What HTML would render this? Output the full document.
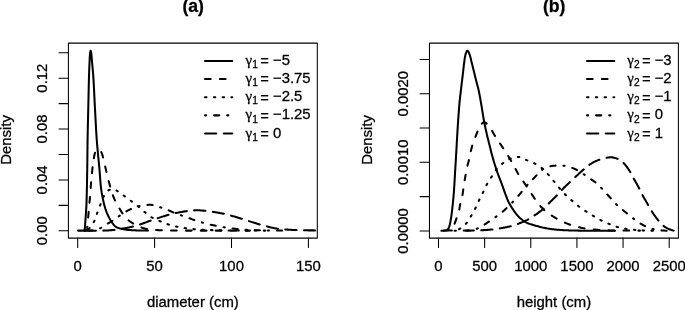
<!DOCTYPE html>
<html lang="en"><head><meta charset="utf-8"><title>Density plots</title>
<style>html,body{margin:0;padding:0;background:#fff}svg{display:block}text{font-family:"Liberation Sans",Arial,Helvetica,sans-serif;fill:#000;stroke:#000;stroke-width:0.28px}.g{font-family:"Liberation Serif","Liberation Sans",serif}.c{fill:none;stroke:#000;stroke-width:2.05;stroke-linecap:round;stroke-linejoin:round}.ax{fill:none;stroke:#000;stroke-width:1.05;stroke-linecap:round;stroke-linejoin:round}</style></head><body>
<svg width="685" height="310" viewBox="0 0 685 310">
<rect width="685" height="310" fill="#fff"/>
<clipPath id="cp1"><rect x="68.40" y="43.10" width="248.90" height="195.00"/></clipPath>
<line x1="68.40" y1="231.00" x2="317.30" y2="231.00" stroke="#d9d9d9" stroke-width="0.4"/>
<g clip-path="url(#cp1)">
<path class="c" d="M78.00 230.60 L79.17 230.60 L80.24 230.60 L81.21 230.60 L82.08 230.60 L82.82 230.60 L83.44 230.60 L83.93 230.60 L84.27 230.57 L84.54 230.02 L84.75 229.06 L84.89 228.10 L84.97 227.31 L85.04 226.52 L85.10 225.72 L85.14 224.92 L85.18 224.12 L85.22 223.31 L85.27 222.51 L85.32 221.72 L85.37 220.92 L85.43 220.12 L85.48 219.32 L85.54 218.52 L85.60 217.73 L85.65 216.93 L85.71 216.13 L85.77 215.33 L85.83 214.54 L85.89 213.74 L85.94 212.94 L86.00 212.14 L86.05 211.34 L86.11 210.55 L86.16 209.75 L86.21 208.95 L86.26 208.15 L86.30 207.35 L86.35 206.56 L86.39 205.76 L86.42 204.96 L86.46 204.16 L86.49 203.36 L86.51 202.56 L86.54 201.77 L86.57 200.97 L86.59 200.17 L86.62 199.37 L86.64 198.57 L86.66 197.77 L86.69 196.97 L86.71 196.17 L86.73 195.37 L86.75 194.57 L86.77 193.78 L86.79 192.98 L86.81 192.18 L86.83 191.38 L86.85 190.58 L86.86 189.78 L86.88 188.98 L86.90 188.18 L86.91 187.38 L86.93 186.58 L86.95 185.78 L86.96 184.98 L86.98 184.18 L86.99 183.38 L87.01 182.58 L87.02 181.78 L87.04 180.98 L87.05 180.18 L87.06 179.38 L87.08 178.58 L87.09 177.78 L87.10 176.99 L87.12 176.19 L87.13 175.39 L87.14 174.59 L87.16 173.79 L87.17 172.99 L87.18 172.19 L87.19 171.39 L87.21 170.59 L87.22 169.79 L87.23 168.99 L87.24 168.19 L87.25 167.39 L87.26 166.59 L87.28 165.79 L87.29 164.99 L87.30 164.19 L87.31 163.39 L87.32 162.59 L87.32 161.79 L87.33 161.00 L87.34 160.20 L87.35 159.40 L87.36 158.60 L87.37 157.80 L87.38 157.00 L87.39 156.20 L87.40 155.40 L87.40 154.60 L87.41 153.80 L87.42 153.00 L87.43 152.20 L87.44 151.40 L87.45 150.60 L87.46 149.80 L87.47 149.00 L87.48 148.20 L87.48 147.40 L87.49 146.60 L87.50 145.80 L87.51 145.01 L87.52 144.21 L87.54 143.41 L87.55 142.61 L87.56 141.81 L87.57 141.01 L87.58 140.21 L87.59 139.41 L87.61 138.61 L87.62 137.81 L87.63 137.01 L87.65 136.21 L87.66 135.41 L87.68 134.61 L87.69 133.81 L87.71 133.01 L87.72 132.21 L87.74 131.42 L87.75 130.62 L87.77 129.82 L87.79 129.02 L87.81 128.22 L87.82 127.42 L87.84 126.62 L87.86 125.82 L87.88 125.02 L87.89 124.22 L87.91 123.42 L87.93 122.62 L87.95 121.82 L87.97 121.02 L87.99 120.22 L88.01 119.42 L88.03 118.63 L88.05 117.83 L88.06 117.03 L88.08 116.23 L88.10 115.43 L88.12 114.63 L88.14 113.83 L88.16 113.03 L88.18 112.23 L88.20 111.43 L88.22 110.63 L88.23 109.83 L88.25 109.03 L88.27 108.23 L88.29 107.43 L88.31 106.64 L88.33 105.84 L88.34 105.04 L88.36 104.24 L88.38 103.44 L88.40 102.64 L88.41 101.84 L88.43 101.04 L88.45 100.24 L88.46 99.44 L88.48 98.64 L88.50 97.84 L88.52 97.04 L88.53 96.24 L88.55 95.44 L88.57 94.64 L88.58 93.85 L88.60 93.05 L88.62 92.25 L88.64 91.45 L88.65 90.65 L88.67 89.85 L88.69 89.05 L88.71 88.25 L88.72 87.45 L88.74 86.65 L88.76 85.85 L88.78 85.05 L88.80 84.25 L88.82 83.45 L88.84 82.65 L88.86 81.86 L88.88 81.06 L88.90 80.26 L88.92 79.46 L88.94 78.66 L88.97 77.86 L88.99 77.06 L89.01 76.26 L89.04 75.46 L89.06 74.66 L89.09 73.86 L89.11 73.06 L89.14 72.27 L89.17 71.47 L89.19 70.67 L89.22 69.87 L89.25 69.07 L89.28 68.27 L89.32 67.47 L89.35 66.67 L89.38 65.87 L89.41 65.07 L89.45 64.28 L89.48 63.48 L89.52 62.68 L89.56 61.88 L89.59 61.08 L89.63 60.28 L89.67 59.48 L89.71 58.68 L89.75 57.88 L89.79 57.09 L89.84 56.29 L89.90 55.49 L89.96 54.69 L90.04 53.89 L90.12 53.10 L90.23 52.31 L90.40 51.37 L90.63 50.71 L90.88 51.20 L91.09 52.17 L91.22 52.95 L91.32 53.75 L91.41 54.54 L91.48 55.34 L91.56 56.14 L91.64 56.93 L91.70 57.73 L91.77 58.53 L91.83 59.32 L91.90 60.12 L91.96 60.92 L92.03 61.72 L92.09 62.51 L92.17 63.31 L92.24 64.10 L92.31 64.90 L92.39 65.70 L92.46 66.49 L92.54 67.29 L92.61 68.09 L92.69 68.88 L92.76 69.68 L92.84 70.47 L92.91 71.27 L92.97 72.07 L93.04 72.86 L93.10 73.66 L93.16 74.46 L93.22 75.26 L93.27 76.05 L93.32 76.85 L93.38 77.65 L93.43 78.45 L93.47 79.24 L93.52 80.04 L93.57 80.84 L93.62 81.64 L93.66 82.44 L93.71 83.23 L93.75 84.03 L93.79 84.83 L93.84 85.63 L93.88 86.43 L93.92 87.23 L93.96 88.02 L94.00 88.82 L94.04 89.62 L94.08 90.42 L94.12 91.22 L94.16 92.02 L94.19 92.82 L94.23 93.62 L94.27 94.41 L94.31 95.21 L94.35 96.01 L94.39 96.81 L94.42 97.61 L94.46 98.41 L94.50 99.21 L94.54 100.01 L94.58 100.80 L94.62 101.60 L94.66 102.40 L94.70 103.20 L94.74 104.00 L94.78 104.80 L94.82 105.60 L94.87 106.39 L94.91 107.19 L94.95 107.99 L95.00 108.79 L95.04 109.59 L95.08 110.39 L95.12 111.18 L95.17 111.98 L95.21 112.78 L95.25 113.58 L95.29 114.38 L95.33 115.18 L95.37 115.98 L95.41 116.77 L95.46 117.57 L95.50 118.37 L95.54 119.17 L95.58 119.97 L95.62 120.77 L95.66 121.57 L95.71 122.37 L95.75 123.16 L95.79 123.96 L95.84 124.76 L95.88 125.56 L95.92 126.36 L95.97 127.16 L96.01 127.95 L96.06 128.75 L96.10 129.55 L96.15 130.35 L96.20 131.15 L96.24 131.94 L96.29 132.74 L96.34 133.54 L96.39 134.34 L96.44 135.14 L96.49 135.93 L96.55 136.73 L96.60 137.53 L96.65 138.33 L96.71 139.12 L96.77 139.92 L96.82 140.72 L96.88 141.51 L96.95 142.31 L97.01 143.11 L97.07 143.91 L97.14 144.70 L97.21 145.50 L97.28 146.29 L97.35 147.09 L97.42 147.89 L97.49 148.68 L97.56 149.48 L97.64 150.28 L97.71 151.07 L97.79 151.87 L97.86 152.66 L97.94 153.46 L98.01 154.26 L98.09 155.05 L98.17 155.85 L98.25 156.64 L98.33 157.44 L98.40 158.24 L98.48 159.03 L98.56 159.83 L98.64 160.62 L98.71 161.42 L98.79 162.22 L98.87 163.01 L98.95 163.81 L99.02 164.60 L99.10 165.40 L99.17 166.20 L99.24 166.99 L99.32 167.79 L99.39 168.59 L99.46 169.38 L99.53 170.18 L99.60 170.97 L99.66 171.77 L99.73 172.57 L99.79 173.37 L99.85 174.17 L99.91 174.96 L99.97 175.76 L100.02 176.56 L100.08 177.36 L100.14 178.16 L100.19 178.96 L100.25 179.75 L100.31 180.55 L100.37 181.35 L100.44 182.15 L100.50 182.94 L100.57 183.74 L100.65 184.53 L100.72 185.33 L100.80 186.12 L100.89 186.91 L100.98 187.71 L101.08 188.50 L101.19 189.29 L101.30 190.08 L101.41 190.87 L101.54 191.66 L101.66 192.45 L101.80 193.24 L101.94 194.03 L102.08 194.82 L102.23 195.61 L102.38 196.40 L102.54 197.18 L102.70 197.97 L102.86 198.75 L103.03 199.54 L103.20 200.32 L103.37 201.10 L103.54 201.88 L103.72 202.65 L103.90 203.43 L104.09 204.21 L104.29 204.98 L104.50 205.75 L104.72 206.52 L104.95 207.29 L105.19 208.06 L105.43 208.82 L105.69 209.58 L105.95 210.33 L106.21 211.08 L106.50 211.83 L106.79 212.58 L107.10 213.32 L107.41 214.05 L107.74 214.79 L108.07 215.51 L108.42 216.23 L108.77 216.95 L109.13 217.66 L109.50 218.38 L109.89 219.09 L110.28 219.79 L110.69 220.48 L111.12 221.16 L111.55 221.83 L112.01 222.47 L112.48 223.11 L112.97 223.77 L113.48 224.44 L114.01 225.08 L114.57 225.69 L115.14 226.24 L115.75 226.71 L116.38 227.10 L117.06 227.44 L117.79 227.74 L118.55 228.02 L119.34 228.28 L120.14 228.50 L120.93 228.70 L121.70 228.86 L122.48 229.02 L123.26 229.17 L124.05 229.31 L124.84 229.44 L125.64 229.56 L126.43 229.67 L127.23 229.77 L128.03 229.86 L128.83 229.94 L129.62 230.00 L130.42 230.06 L131.21 230.11 L132.01 230.17 L132.81 230.21 L133.61 230.26 L134.41 230.30 L135.21 230.34 L136.01 230.38 L136.81 230.41 L137.61 230.44 L138.41 230.46 L139.21 230.48 L140.01 230.50 L140.80 230.52 L141.60 230.53 L142.40 230.54 L143.20 230.56 L144.00 230.57 L144.80 230.58 L145.60 230.59 L146.40 230.59 L147.20 230.60 L148.00 230.60"/>
<path class="c" stroke-dasharray="5.7 9.2" stroke-dashoffset="10.31" d="M80.00 230.60 L81.12 230.60 L82.14 230.60 L83.07 230.59 L83.91 230.58 L84.66 230.57 L85.31 230.55 L85.88 230.52 L86.35 230.49 L86.75 229.86 L87.01 228.96 L87.15 228.19 L87.25 227.39 L87.34 226.58 L87.42 225.79 L87.51 224.99 L87.59 224.20 L87.67 223.40 L87.74 222.60 L87.81 221.81 L87.88 221.01 L87.95 220.21 L88.01 219.41 L88.08 218.62 L88.15 217.82 L88.21 217.02 L88.28 216.23 L88.35 215.43 L88.42 214.63 L88.48 213.83 L88.55 213.04 L88.61 212.24 L88.68 211.44 L88.74 210.64 L88.81 209.85 L88.87 209.05 L88.94 208.25 L89.00 207.46 L89.07 206.66 L89.14 205.86 L89.21 205.06 L89.28 204.27 L89.35 203.47 L89.43 202.68 L89.52 201.88 L89.61 201.09 L89.70 200.29 L89.79 199.50 L89.87 198.70 L89.94 197.90 L90.01 197.11 L90.07 196.31 L90.14 195.51 L90.19 194.72 L90.25 193.92 L90.30 193.12 L90.36 192.32 L90.41 191.52 L90.46 190.72 L90.52 189.93 L90.57 189.13 L90.63 188.33 L90.68 187.53 L90.74 186.73 L90.81 185.94 L90.87 185.14 L90.93 184.34 L91.00 183.54 L91.07 182.75 L91.13 181.95 L91.20 181.15 L91.27 180.36 L91.34 179.56 L91.41 178.76 L91.48 177.97 L91.56 177.17 L91.63 176.37 L91.71 175.58 L91.78 174.78 L91.86 173.98 L91.94 173.19 L92.02 172.39 L92.10 171.60 L92.19 170.80 L92.27 170.01 L92.36 169.21 L92.45 168.42 L92.54 167.62 L92.64 166.83 L92.73 166.03 L92.83 165.24 L92.93 164.44 L93.03 163.65 L93.14 162.86 L93.25 162.06 L93.36 161.27 L93.48 160.48 L93.60 159.69 L93.73 158.90 L93.86 158.11 L94.00 157.31 L94.13 156.51 L94.28 155.72 L94.45 154.93 L94.64 154.16 L94.84 153.40 L95.08 152.66 L95.40 151.89 L95.78 151.15 L96.24 150.49 L96.77 149.95 L97.47 149.45 L98.21 149.32 L99.00 149.56 L99.69 149.92 L100.27 150.48 L100.76 151.16 L101.14 151.83 L101.48 152.54 L101.78 153.27 L102.06 154.03 L102.32 154.81 L102.56 155.59 L102.79 156.37 L103.01 157.14 L103.22 157.91 L103.42 158.68 L103.60 159.46 L103.78 160.24 L103.95 161.02 L104.12 161.81 L104.29 162.59 L104.46 163.37 L104.64 164.15 L104.82 164.93 L104.99 165.71 L105.17 166.49 L105.35 167.27 L105.53 168.05 L105.71 168.83 L105.89 169.61 L106.07 170.39 L106.26 171.17 L106.44 171.95 L106.62 172.73 L106.80 173.51 L106.98 174.28 L107.16 175.06 L107.35 175.84 L107.53 176.62 L107.72 177.40 L107.92 178.17 L108.11 178.95 L108.32 179.72 L108.52 180.49 L108.73 181.27 L108.94 182.04 L109.16 182.81 L109.37 183.58 L109.59 184.35 L109.81 185.12 L110.03 185.89 L110.24 186.66 L110.46 187.43 L110.68 188.20 L110.89 188.97 L111.11 189.74 L111.33 190.51 L111.56 191.28 L111.79 192.04 L112.03 192.80 L112.29 193.56 L112.55 194.31 L112.82 195.07 L113.10 195.82 L113.39 196.57 L113.68 197.32 L113.98 198.06 L114.29 198.80 L114.61 199.53 L114.93 200.26 L115.27 200.98 L115.62 201.69 L115.99 202.40 L116.37 203.11 L116.75 203.81 L117.15 204.51 L117.55 205.20 L117.95 205.90 L118.36 206.59 L118.76 207.28 L119.17 207.97 L119.57 208.66 L119.97 209.36 L120.37 210.05 L120.78 210.74 L121.19 211.42 L121.63 212.09 L122.07 212.75 L122.53 213.41 L123.00 214.07 L123.47 214.72 L123.96 215.37 L124.45 216.01 L124.95 216.65 L125.47 217.26 L126.00 217.87 L126.54 218.45 L127.09 219.01 L127.66 219.55 L128.25 220.07 L128.86 220.57 L129.50 221.06 L130.15 221.53 L130.82 221.99 L131.49 222.44 L132.18 222.87 L132.86 223.29 L133.54 223.70 L134.22 224.11 L134.92 224.52 L135.62 224.92 L136.33 225.31 L137.04 225.69 L137.76 226.04 L138.48 226.38 L139.22 226.70 L139.95 226.98 L140.70 227.25 L141.45 227.51 L142.21 227.77 L142.98 228.01 L143.76 228.24 L144.53 228.45 L145.32 228.64 L146.10 228.81 L146.88 228.95 L147.66 229.07 L148.45 229.18 L149.24 229.28 L150.03 229.39 L150.82 229.48 L151.62 229.57 L152.42 229.66 L153.21 229.74 L154.01 229.82 L154.81 229.89 L155.62 229.95 L156.42 230.01 L157.22 230.06 L158.02 230.11 L158.82 230.15 L159.62 230.19 L160.42 230.21 L161.21 230.24 L162.01 230.27 L162.81 230.29 L163.61 230.32 L164.41 230.34 L165.21 230.37 L166.01 230.39 L166.81 230.41 L167.61 230.43 L168.41 230.45 L169.21 230.47 L170.01 230.49 L170.81 230.50 L171.61 230.52 L172.41 230.53 L173.21 230.55 L174.01 230.56 L174.81 230.57 L175.61 230.58 L176.41 230.58 L177.21 230.59 L178.01 230.60 L178.81 230.60 L179.61 230.60 L180.41 230.60 L181.21 230.60 L182.01 230.60 L182.81 230.60 L183.61 230.60 L184.41 230.60 L185.21 230.60 L186.01 230.60 L186.81 230.60 L187.61 230.60 L188.41 230.60 L189.21 230.60 L190.01 230.60 L190.81 230.60 L191.61 230.60 L192.41 230.60 L193.21 230.60 L194.01 230.60 L194.81 230.60 L195.61 230.60 L196.41 230.60 L197.21 230.60 L198.01 230.60 L198.81 230.60 L199.61 230.60 L200.40 230.60 L201.20 230.60 L202.00 230.60 L202.80 230.60 L203.60 230.60 L204.40 230.60 L205.20 230.60 L206.00 230.60 L206.80 230.60 L207.60 230.60 L208.40 230.60 L209.20 230.60 L210.00 230.60 L210.80 230.60 L211.60 230.60 L212.40 230.60 L213.20 230.60 L214.00 230.60 L214.80 230.60 L215.60 230.60 L216.40 230.60 L217.20 230.60 L218.00 230.60 L218.80 230.60 L219.60 230.60 L220.40 230.60 L221.20 230.60 L222.00 230.60 L222.80 230.60 L223.60 230.60 L224.40 230.60 L225.20 230.60 L226.00 230.60 L226.80 230.60 L227.60 230.60 L228.40 230.60 L229.20 230.60 L230.00 230.60 L230.80 230.60 L231.60 230.60 L232.40 230.60 L233.20 230.60 L234.00 230.60 L234.80 230.60 L235.60 230.60 L236.40 230.60 L237.20 230.60 L238.00 230.60 L238.80 230.60 L239.60 230.60 L240.40 230.60 L241.20 230.60 L242.00 230.60 L242.80 230.60 L243.60 230.60 L244.40 230.60 L245.20 230.60 L246.00 230.60 L246.80 230.60 L247.60 230.60 L248.40 230.60 L249.20 230.60 L250.00 230.60"/>
<path class="c" stroke-dasharray="1.5 7.3" stroke-dashoffset="2.01" d="M82.00 230.60 L82.83 230.58 L83.65 230.52 L84.44 230.44 L85.22 230.33 L85.97 230.21 L86.71 230.00 L87.45 229.66 L88.17 229.24 L88.84 228.76 L89.44 228.27 L89.97 227.71 L90.45 227.08 L90.91 226.39 L91.36 225.71 L91.81 225.06 L92.27 224.40 L92.73 223.74 L93.17 223.07 L93.58 222.39 L93.95 221.69 L94.29 220.98 L94.61 220.26 L94.91 219.53 L95.19 218.78 L95.46 218.03 L95.72 217.27 L95.98 216.51 L96.24 215.75 L96.50 214.99 L96.76 214.24 L97.03 213.48 L97.31 212.74 L97.59 211.99 L97.87 211.24 L98.15 210.50 L98.43 209.75 L98.71 209.00 L98.99 208.26 L99.27 207.51 L99.55 206.77 L99.84 206.02 L100.13 205.28 L100.42 204.54 L100.70 203.79 L100.98 203.04 L101.26 202.29 L101.54 201.53 L101.83 200.78 L102.12 200.04 L102.41 199.30 L102.72 198.56 L103.05 197.84 L103.38 197.12 L103.74 196.42 L104.11 195.73 L104.52 195.03 L104.95 194.35 L105.40 193.68 L105.88 193.04 L106.38 192.43 L106.91 191.84 L107.48 191.25 L108.09 190.71 L108.73 190.25 L109.41 189.89 L110.15 189.55 L110.92 189.24 L111.71 188.99 L112.49 188.83 L113.23 188.81 L113.97 188.99 L114.69 189.32 L115.40 189.75 L116.11 190.23 L116.80 190.68 L117.48 191.09 L118.15 191.51 L118.81 191.95 L119.47 192.40 L120.12 192.87 L120.76 193.34 L121.40 193.82 L122.04 194.31 L122.68 194.79 L123.31 195.27 L123.96 195.75 L124.60 196.22 L125.24 196.69 L125.89 197.16 L126.53 197.63 L127.17 198.10 L127.81 198.58 L128.45 199.05 L129.09 199.53 L129.73 200.00 L130.37 200.48 L131.01 200.96 L131.65 201.44 L132.29 201.91 L132.93 202.39 L133.57 202.87 L134.20 203.34 L134.84 203.82 L135.48 204.31 L136.11 204.79 L136.74 205.28 L137.37 205.77 L137.99 206.27 L138.61 206.77 L139.22 207.28 L139.82 207.80 L140.42 208.33 L141.01 208.86 L141.61 209.39 L142.20 209.92 L142.80 210.45 L143.40 210.98 L144.00 211.50 L144.61 212.01 L145.23 212.52 L145.84 213.04 L146.45 213.56 L147.06 214.08 L147.68 214.60 L148.30 215.10 L148.94 215.59 L149.57 216.07 L150.22 216.51 L150.89 216.93 L151.57 217.33 L152.26 217.70 L152.96 218.06 L153.68 218.40 L154.41 218.73 L155.14 219.06 L155.88 219.38 L156.62 219.69 L157.36 220.00 L158.10 220.31 L158.84 220.63 L159.57 220.95 L160.30 221.27 L161.03 221.59 L161.76 221.91 L162.49 222.23 L163.23 222.54 L163.96 222.85 L164.70 223.15 L165.44 223.44 L166.19 223.72 L166.94 223.98 L167.69 224.23 L168.45 224.48 L169.21 224.72 L169.97 224.96 L170.74 225.19 L171.51 225.41 L172.28 225.62 L173.05 225.83 L173.82 226.02 L174.59 226.21 L175.37 226.38 L176.15 226.55 L176.92 226.72 L177.71 226.88 L178.49 227.04 L179.27 227.19 L180.06 227.34 L180.84 227.48 L181.63 227.62 L182.42 227.75 L183.20 227.88 L183.99 227.99 L184.78 228.10 L185.57 228.21 L186.36 228.31 L187.15 228.41 L187.94 228.51 L188.73 228.60 L189.52 228.69 L190.32 228.78 L191.11 228.87 L191.90 228.96 L192.70 229.04 L193.49 229.12 L194.29 229.19 L195.08 229.26 L195.88 229.33 L196.67 229.39 L197.47 229.45 L198.26 229.50 L199.06 229.55 L199.85 229.59 L200.65 229.63 L201.44 229.67 L202.24 229.71 L203.03 229.74 L203.83 229.78 L204.63 229.82 L205.42 229.85 L206.22 229.89 L207.01 229.92 L207.81 229.95 L208.61 229.98 L209.40 230.02 L210.20 230.05 L211.00 230.08 L211.79 230.11 L212.59 230.13 L213.39 230.16 L214.18 230.19 L214.98 230.21 L215.78 230.24 L216.58 230.26 L217.37 230.28 L218.17 230.31 L218.97 230.33 L219.77 230.35 L220.56 230.36 L221.36 230.38 L222.16 230.40 L222.95 230.41 L223.75 230.43 L224.55 230.44 L225.35 230.45 L226.14 230.46 L226.94 230.47 L227.74 230.48 L228.54 230.49 L229.33 230.50 L230.13 230.50 L230.93 230.50 L231.72 230.51 L232.52 230.51 L233.32 230.52 L234.11 230.52 L234.91 230.52 L235.71 230.53 L236.51 230.53 L237.30 230.53 L238.10 230.54 L238.90 230.54 L239.69 230.54 L240.49 230.55 L241.29 230.55 L242.08 230.55 L242.88 230.56 L243.68 230.56 L244.48 230.56 L245.27 230.57 L246.07 230.57 L246.87 230.57 L247.66 230.57 L248.46 230.57 L249.26 230.58 L250.06 230.58 L250.85 230.58 L251.65 230.58 L252.45 230.58 L253.24 230.59 L254.04 230.59 L254.84 230.59 L255.64 230.59 L256.43 230.59 L257.23 230.59 L258.03 230.59 L258.82 230.60 L259.62 230.60 L260.42 230.60 L261.22 230.60 L262.01 230.60 L262.81 230.60 L263.61 230.60 L264.41 230.60 L265.20 230.60 L266.00 230.60"/>
<path class="c" stroke-dasharray="1.2 7.9 5.2 7.9" stroke-dashoffset="9.76" d="M88.00 230.60 L88.82 230.59 L89.63 230.56 L90.43 230.51 L91.23 230.45 L92.03 230.37 L92.82 230.29 L93.61 230.19 L94.39 230.09 L95.16 229.98 L95.93 229.83 L96.71 229.62 L97.47 229.38 L98.23 229.10 L98.99 228.79 L99.73 228.47 L100.46 228.14 L101.18 227.81 L101.89 227.46 L102.57 227.07 L103.25 226.65 L103.91 226.20 L104.57 225.74 L105.23 225.27 L105.89 224.81 L106.55 224.35 L107.23 223.91 L107.91 223.49 L108.59 223.08 L109.29 222.68 L109.98 222.28 L110.67 221.88 L111.36 221.48 L112.05 221.07 L112.72 220.64 L113.39 220.21 L114.05 219.76 L114.70 219.29 L115.34 218.82 L115.98 218.34 L116.62 217.86 L117.26 217.38 L117.90 216.90 L118.55 216.43 L119.20 215.97 L119.86 215.51 L120.51 215.05 L121.17 214.60 L121.83 214.14 L122.49 213.69 L123.16 213.25 L123.83 212.81 L124.51 212.39 L125.19 211.98 L125.88 211.58 L126.58 211.19 L127.28 210.81 L127.99 210.44 L128.70 210.07 L129.42 209.72 L130.15 209.38 L130.88 209.05 L131.61 208.74 L132.35 208.44 L133.09 208.14 L133.84 207.85 L134.59 207.57 L135.35 207.31 L136.11 207.05 L136.87 206.81 L137.64 206.60 L138.41 206.40 L139.18 206.21 L139.96 206.03 L140.74 205.85 L141.52 205.68 L142.31 205.52 L143.10 205.37 L143.89 205.24 L144.68 205.13 L145.48 205.04 L146.27 204.98 L147.07 204.92 L147.87 204.87 L148.67 204.83 L149.46 204.81 L150.26 204.80 L151.06 204.85 L151.86 204.95 L152.65 205.08 L153.44 205.22 L154.22 205.36 L154.99 205.54 L155.76 205.75 L156.52 205.99 L157.28 206.24 L158.04 206.52 L158.79 206.79 L159.55 207.07 L160.30 207.33 L161.06 207.59 L161.82 207.84 L162.58 208.10 L163.33 208.36 L164.09 208.63 L164.84 208.89 L165.59 209.17 L166.34 209.45 L167.08 209.73 L167.83 210.03 L168.56 210.34 L169.30 210.65 L170.03 210.98 L170.76 211.30 L171.49 211.62 L172.22 211.94 L172.96 212.26 L173.70 212.56 L174.44 212.85 L175.19 213.14 L175.93 213.42 L176.68 213.70 L177.43 213.98 L178.18 214.25 L178.93 214.52 L179.69 214.79 L180.44 215.06 L181.19 215.33 L181.94 215.60 L182.70 215.86 L183.45 216.12 L184.21 216.38 L184.97 216.64 L185.72 216.90 L186.48 217.17 L187.23 217.43 L187.98 217.70 L188.73 217.98 L189.48 218.26 L190.23 218.54 L190.98 218.83 L191.72 219.11 L192.47 219.40 L193.22 219.67 L193.97 219.95 L194.72 220.21 L195.48 220.46 L196.24 220.71 L197.00 220.95 L197.77 221.18 L198.53 221.41 L199.30 221.64 L200.07 221.87 L200.83 222.09 L201.60 222.31 L202.37 222.53 L203.14 222.76 L203.91 222.98 L204.68 223.19 L205.45 223.41 L206.22 223.62 L206.99 223.82 L207.76 224.02 L208.54 224.21 L209.32 224.40 L210.09 224.57 L210.88 224.74 L211.66 224.90 L212.44 225.06 L213.23 225.22 L214.01 225.37 L214.79 225.52 L215.58 225.68 L216.36 225.83 L217.15 225.99 L217.93 226.15 L218.71 226.31 L219.50 226.47 L220.28 226.62 L221.07 226.77 L221.85 226.92 L222.64 227.06 L223.43 227.19 L224.22 227.31 L225.01 227.43 L225.80 227.54 L226.59 227.65 L227.38 227.76 L228.17 227.86 L228.97 227.96 L229.76 228.07 L230.55 228.17 L231.34 228.27 L232.14 228.38 L232.93 228.49 L233.72 228.60 L234.51 228.71 L235.31 228.81 L236.10 228.91 L236.89 229.00 L237.69 229.07 L238.48 229.14 L239.28 229.20 L240.07 229.26 L240.87 229.33 L241.67 229.39 L242.46 229.44 L243.26 229.50 L244.06 229.56 L244.85 229.61 L245.65 229.66 L246.45 229.71 L247.25 229.76 L248.05 229.81 L248.84 229.86 L249.64 229.90 L250.44 229.95 L251.24 229.99 L252.04 230.03 L252.84 230.06 L253.64 230.10 L254.44 230.13 L255.24 230.16 L256.03 230.19 L256.83 230.22 L257.63 230.24 L258.43 230.26 L259.23 230.28 L260.03 230.30 L260.83 230.32 L261.63 230.33 L262.42 230.35 L263.22 230.36 L264.02 230.38 L264.82 230.39 L265.62 230.41 L266.42 230.42 L267.22 230.44 L268.01 230.45 L268.81 230.46 L269.61 230.48 L270.41 230.49 L271.21 230.50 L272.01 230.51 L272.81 230.52 L273.61 230.53 L274.41 230.54 L275.21 230.55 L276.01 230.56 L276.80 230.57 L277.60 230.57 L278.40 230.58 L279.20 230.58 L280.00 230.59 L280.80 230.59 L281.60 230.60 L282.40 230.60 L283.20 230.60 L284.00 230.60"/>
<path class="c" stroke-dasharray="11.3 7.4" stroke-dashoffset="0.00" d="M84.60 230.70 L85.40 230.70 L86.20 230.70 L87.00 230.70 L87.79 230.70 L88.59 230.70 L89.39 230.69 L90.19 230.69 L90.99 230.69 L91.79 230.69 L92.58 230.68 L93.38 230.68 L94.18 230.68 L94.98 230.67 L95.77 230.67 L96.57 230.66 L97.37 230.66 L98.17 230.65 L98.96 230.65 L99.76 230.64 L100.56 230.63 L101.36 230.63 L102.15 230.62 L102.95 230.61 L103.75 230.60 L104.54 230.59 L105.34 230.57 L106.14 230.54 L106.93 230.50 L107.73 230.45 L108.53 230.40 L109.32 230.34 L110.12 230.27 L110.92 230.20 L111.71 230.13 L112.51 230.05 L113.30 229.98 L114.09 229.90 L114.88 229.82 L115.68 229.73 L116.47 229.63 L117.26 229.52 L118.05 229.40 L118.84 229.28 L119.62 229.15 L120.41 229.02 L121.20 228.88 L121.99 228.75 L122.77 228.61 L123.56 228.47 L124.34 228.33 L125.13 228.19 L125.91 228.05 L126.70 227.90 L127.48 227.74 L128.26 227.59 L129.05 227.43 L129.83 227.26 L130.61 227.09 L131.38 226.91 L132.16 226.73 L132.93 226.54 L133.70 226.35 L134.47 226.14 L135.24 225.92 L136.01 225.70 L136.77 225.46 L137.54 225.23 L138.30 224.99 L139.06 224.75 L139.82 224.50 L140.57 224.25 L141.33 223.99 L142.08 223.73 L142.83 223.46 L143.58 223.19 L144.33 222.92 L145.08 222.65 L145.83 222.38 L146.58 222.10 L147.34 221.84 L148.09 221.57 L148.84 221.30 L149.59 221.04 L150.34 220.77 L151.09 220.50 L151.85 220.23 L152.60 219.96 L153.35 219.69 L154.10 219.43 L154.85 219.16 L155.61 218.90 L156.36 218.65 L157.12 218.39 L157.87 218.14 L158.63 217.89 L159.39 217.63 L160.15 217.38 L160.90 217.13 L161.66 216.88 L162.42 216.63 L163.18 216.39 L163.94 216.15 L164.70 215.91 L165.47 215.68 L166.23 215.45 L167.00 215.22 L167.76 215.00 L168.53 214.79 L169.30 214.58 L170.07 214.38 L170.84 214.18 L171.62 213.99 L172.39 213.80 L173.17 213.62 L173.95 213.44 L174.73 213.27 L175.51 213.11 L176.29 212.95 L177.07 212.79 L177.85 212.63 L178.64 212.47 L179.42 212.32 L180.21 212.17 L180.99 212.03 L181.78 211.89 L182.56 211.75 L183.35 211.62 L184.14 211.50 L184.93 211.38 L185.72 211.27 L186.51 211.16 L187.30 211.05 L188.09 210.94 L188.88 210.83 L189.67 210.73 L190.46 210.64 L191.26 210.55 L192.05 210.48 L192.85 210.43 L193.64 210.39 L194.44 210.37 L195.24 210.34 L196.04 210.32 L196.83 210.31 L197.63 210.30 L198.43 210.30 L199.23 210.32 L200.02 210.36 L200.82 210.41 L201.62 210.47 L202.41 210.54 L203.21 210.61 L204.00 210.69 L204.80 210.76 L205.59 210.84 L206.38 210.92 L207.17 211.02 L207.97 211.12 L208.76 211.23 L209.55 211.35 L210.34 211.47 L211.12 211.59 L211.91 211.71 L212.70 211.83 L213.49 211.95 L214.28 212.08 L215.06 212.21 L215.85 212.34 L216.64 212.47 L217.43 212.60 L218.21 212.74 L219.00 212.88 L219.78 213.02 L220.57 213.17 L221.35 213.32 L222.13 213.48 L222.92 213.63 L223.70 213.79 L224.48 213.96 L225.25 214.13 L226.03 214.32 L226.80 214.51 L227.58 214.70 L228.35 214.90 L229.12 215.11 L229.89 215.31 L230.67 215.52 L231.43 215.73 L232.20 215.94 L232.97 216.15 L233.74 216.37 L234.51 216.58 L235.27 216.80 L236.04 217.03 L236.81 217.25 L237.57 217.48 L238.34 217.71 L239.10 217.94 L239.86 218.17 L240.63 218.41 L241.39 218.65 L242.15 218.88 L242.91 219.13 L243.67 219.38 L244.42 219.63 L245.18 219.89 L245.93 220.14 L246.69 220.40 L247.44 220.65 L248.20 220.90 L248.96 221.15 L249.72 221.39 L250.48 221.63 L251.24 221.88 L252.00 222.12 L252.76 222.36 L253.52 222.60 L254.28 222.84 L255.05 223.08 L255.81 223.31 L256.57 223.55 L257.33 223.78 L258.10 224.01 L258.86 224.23 L259.63 224.45 L260.40 224.67 L261.17 224.88 L261.94 225.09 L262.71 225.30 L263.48 225.50 L264.25 225.70 L265.02 225.90 L265.80 226.10 L266.57 226.30 L267.34 226.51 L268.11 226.72 L268.88 226.93 L269.65 227.14 L270.42 227.34 L271.20 227.53 L271.97 227.69 L272.76 227.85 L273.54 228.00 L274.32 228.14 L275.11 228.28 L275.90 228.41 L276.69 228.53 L277.48 228.65 L278.27 228.76 L279.06 228.86 L279.85 228.95 L280.64 229.04 L281.44 229.13 L282.23 229.21 L283.03 229.29 L283.82 229.35 L284.62 229.42 L285.41 229.47 L286.21 229.53 L287.00 229.59 L287.80 229.64 L288.59 229.69 L289.39 229.74 L290.19 229.78 L290.98 229.83 L291.78 229.87 L292.58 229.91 L293.37 229.95 L294.17 229.99 L294.97 230.03 L295.77 230.06 L296.56 230.09 L297.36 230.12 L298.16 230.15 L298.95 230.18 L299.75 230.21 L300.55 230.24 L301.35 230.26 L302.14 230.28 L302.94 230.29 L303.74 230.30 L304.54 230.31 L305.33 230.32 L306.13 230.33 L306.93 230.34 L307.73 230.35 L308.52 230.36 L309.32 230.36 L310.12 230.37 L310.92 230.38 L311.72 230.38 L312.51 230.39 L313.31 230.39 L314.11 230.39 L314.91 230.40 L315.70 230.40 L316.50 230.40 L317.30 230.40"/>
</g>
<rect class="ax" x="68.40" y="43.10" width="248.90" height="195.00"/>
<path class="ax" d="M77.70 238.10V247.50M154.60 238.10V247.50M231.50 238.10V247.50M308.40 238.10V247.50M68.40 230.80H59.00M68.40 205.36H59.00M68.40 179.92H59.00M68.40 154.48H59.00M68.40 129.04H59.00M68.40 103.60H59.00M68.40 78.16H59.00M68.40 52.72H59.00"/>
<text x="77.70" y="270.7" font-size="14.9" text-anchor="middle">0</text>
<text x="154.60" y="270.7" font-size="14.9" text-anchor="middle">50</text>
<text x="231.50" y="270.7" font-size="14.9" text-anchor="middle">100</text>
<text x="308.40" y="270.7" font-size="14.9" text-anchor="middle">150</text>
<text transform="translate(47.10 230.80) rotate(-90)" font-size="14.9" text-anchor="middle">0.00</text>
<text transform="translate(47.10 179.92) rotate(-90)" font-size="14.9" text-anchor="middle">0.04</text>
<text transform="translate(47.10 129.04) rotate(-90)" font-size="14.9" text-anchor="middle">0.08</text>
<text transform="translate(47.10 78.16) rotate(-90)" font-size="14.9" text-anchor="middle">0.12</text>
<text x="192.85" y="306.5" font-size="14.9" text-anchor="middle">diameter (cm)</text>
<text transform="translate(11.20 140.00) rotate(-90)" font-size="14.9" text-anchor="middle">Density</text>
<text x="193.15" y="12.3" font-size="17.6" font-weight="bold" text-anchor="middle">(a)</text>
<path class="c" d="M205.00 60.90H232.30"/>
<text x="245.60" y="64.90" font-size="14.9"><tspan class="g">γ</tspan><tspan font-size="10.2" dy="3.2">1</tspan><tspan dy="-1.9" dx="2.5" stroke-width="0.1">=</tspan><tspan dy="-1.3" dx="3.9">−5</tspan></text>
<path class="c" stroke-dasharray="5.7 9.2" d="M205.00 79.05H232.30"/>
<text x="245.60" y="83.05" font-size="14.9"><tspan class="g">γ</tspan><tspan font-size="10.2" dy="3.2">1</tspan><tspan dy="-1.9" dx="2.5" stroke-width="0.1">=</tspan><tspan dy="-1.3" dx="3.9">−3.75</tspan></text>
<path class="c" stroke-dasharray="1.5 7.3" d="M205.00 97.20H232.30"/>
<text x="245.60" y="101.20" font-size="14.9"><tspan class="g">γ</tspan><tspan font-size="10.2" dy="3.2">1</tspan><tspan dy="-1.9" dx="2.5" stroke-width="0.1">=</tspan><tspan dy="-1.3" dx="3.9">−2.5</tspan></text>
<path class="c" stroke-dasharray="1.2 7.9 5.2 7.9" d="M205.00 115.35H232.30"/>
<text x="245.60" y="119.35" font-size="14.9"><tspan class="g">γ</tspan><tspan font-size="10.2" dy="3.2">1</tspan><tspan dy="-1.9" dx="2.5" stroke-width="0.1">=</tspan><tspan dy="-1.3" dx="3.9">−1.25</tspan></text>
<path class="c" stroke-dasharray="11.3 7.4" d="M205.00 133.50H232.30"/>
<text x="245.60" y="137.50" font-size="14.9"><tspan class="g">γ</tspan><tspan font-size="10.2" dy="3.2">1</tspan><tspan dy="-1.9" dx="2.5" stroke-width="0.1">=</tspan><tspan dy="-1.3" dx="3.9">0</tspan></text>
<clipPath id="cp2"><rect x="429.45" y="43.10" width="248.95" height="195.00"/></clipPath>
<line x1="429.45" y1="231.00" x2="678.40" y2="231.00" stroke="#d9d9d9" stroke-width="0.4"/>
<g clip-path="url(#cp2)">
<path class="c" d="M441.40 230.70 L442.26 230.69 L443.10 230.68 L443.90 230.65 L444.68 230.61 L445.44 230.55 L446.17 230.47 L446.89 230.10 L447.53 229.58 L448.08 228.99 L448.54 228.32 L448.86 227.62 L449.14 226.90 L449.38 226.15 L449.61 225.39 L449.81 224.60 L449.99 223.81 L450.16 223.01 L450.32 222.20 L450.47 221.41 L450.61 220.62 L450.76 219.84 L450.89 219.05 L451.02 218.27 L451.14 217.48 L451.26 216.69 L451.38 215.90 L451.49 215.11 L451.60 214.31 L451.70 213.52 L451.80 212.72 L451.90 211.93 L451.99 211.14 L452.09 210.34 L452.18 209.55 L452.27 208.75 L452.36 207.96 L452.45 207.16 L452.54 206.37 L452.62 205.58 L452.71 204.78 L452.80 203.99 L452.88 203.19 L452.96 202.40 L453.04 201.60 L453.12 200.81 L453.19 200.01 L453.27 199.22 L453.34 198.42 L453.42 197.62 L453.49 196.83 L453.55 196.03 L453.62 195.24 L453.69 194.44 L453.75 193.64 L453.81 192.85 L453.87 192.05 L453.93 191.25 L453.99 190.46 L454.04 189.66 L454.10 188.86 L454.15 188.07 L454.20 187.27 L454.26 186.47 L454.31 185.68 L454.36 184.88 L454.40 184.08 L454.45 183.28 L454.50 182.49 L454.55 181.69 L454.59 180.89 L454.64 180.09 L454.69 179.30 L454.73 178.50 L454.78 177.70 L454.82 176.90 L454.87 176.10 L454.91 175.31 L454.96 174.51 L455.00 173.71 L455.05 172.91 L455.09 172.12 L455.14 171.32 L455.19 170.52 L455.23 169.72 L455.28 168.93 L455.33 168.13 L455.38 167.33 L455.43 166.53 L455.48 165.74 L455.53 164.94 L455.58 164.14 L455.62 163.34 L455.67 162.55 L455.72 161.75 L455.77 160.95 L455.81 160.15 L455.86 159.36 L455.91 158.56 L455.95 157.76 L456.00 156.96 L456.05 156.16 L456.09 155.37 L456.14 154.57 L456.18 153.77 L456.23 152.97 L456.27 152.17 L456.32 151.38 L456.36 150.58 L456.41 149.78 L456.45 148.98 L456.50 148.19 L456.54 147.39 L456.59 146.59 L456.63 145.79 L456.68 144.99 L456.72 144.20 L456.77 143.40 L456.81 142.60 L456.86 141.80 L456.90 141.00 L456.95 140.21 L456.99 139.41 L457.04 138.61 L457.09 137.81 L457.13 137.01 L457.18 136.22 L457.23 135.42 L457.27 134.62 L457.32 133.82 L457.37 133.03 L457.41 132.23 L457.46 131.43 L457.51 130.63 L457.56 129.84 L457.61 129.04 L457.66 128.24 L457.70 127.44 L457.75 126.65 L457.81 125.85 L457.86 125.05 L457.91 124.25 L457.96 123.46 L458.01 122.66 L458.06 121.86 L458.12 121.07 L458.17 120.27 L458.22 119.47 L458.28 118.67 L458.33 117.88 L458.39 117.08 L458.45 116.28 L458.50 115.49 L458.56 114.69 L458.62 113.89 L458.68 113.10 L458.74 112.30 L458.80 111.51 L458.86 110.71 L458.92 109.91 L458.98 109.12 L459.04 108.32 L459.11 107.53 L459.17 106.73 L459.24 105.93 L459.30 105.14 L459.37 104.34 L459.44 103.55 L459.51 102.75 L459.59 101.96 L459.66 101.16 L459.74 100.37 L459.83 99.57 L459.91 98.78 L460.00 97.99 L460.09 97.19 L460.18 96.40 L460.27 95.60 L460.37 94.81 L460.46 94.02 L460.55 93.22 L460.65 92.43 L460.74 91.64 L460.84 90.84 L460.93 90.05 L461.02 89.25 L461.11 88.46 L461.20 87.67 L461.30 86.87 L461.39 86.08 L461.49 85.29 L461.58 84.49 L461.68 83.70 L461.77 82.91 L461.87 82.11 L461.97 81.32 L462.06 80.53 L462.16 79.74 L462.26 78.94 L462.35 78.15 L462.45 77.36 L462.54 76.56 L462.64 75.77 L462.73 74.98 L462.83 74.18 L462.92 73.39 L463.01 72.60 L463.10 71.80 L463.19 71.01 L463.28 70.21 L463.36 69.42 L463.45 68.62 L463.54 67.83 L463.63 67.04 L463.72 66.24 L463.82 65.45 L463.91 64.66 L464.02 63.87 L464.12 63.07 L464.22 62.28 L464.32 61.48 L464.43 60.69 L464.53 59.89 L464.64 59.10 L464.76 58.31 L464.89 57.52 L465.03 56.74 L465.18 55.96 L465.35 55.18 L465.54 54.40 L465.77 53.62 L466.03 52.86 L466.34 52.13 L466.73 51.34 L467.23 50.66 L467.73 50.80 L468.25 51.56 L468.66 52.29 L469.01 53.00 L469.32 53.75 L469.60 54.51 L469.86 55.27 L470.09 56.03 L470.31 56.79 L470.51 57.56 L470.71 58.34 L470.89 59.12 L471.07 59.90 L471.25 60.68 L471.43 61.46 L471.61 62.24 L471.80 63.01 L472.00 63.79 L472.19 64.56 L472.39 65.34 L472.58 66.11 L472.77 66.89 L472.97 67.66 L473.16 68.44 L473.35 69.21 L473.55 69.99 L473.74 70.77 L473.93 71.54 L474.12 72.32 L474.31 73.09 L474.50 73.87 L474.69 74.65 L474.87 75.42 L475.06 76.20 L475.25 76.98 L475.44 77.75 L475.63 78.53 L475.83 79.30 L476.02 80.08 L476.22 80.85 L476.42 81.63 L476.62 82.40 L476.83 83.17 L477.03 83.94 L477.24 84.72 L477.45 85.49 L477.65 86.26 L477.85 87.03 L478.05 87.81 L478.24 88.58 L478.43 89.36 L478.61 90.14 L478.78 90.92 L478.95 91.70 L479.11 92.48 L479.27 93.26 L479.42 94.04 L479.57 94.83 L479.72 95.61 L479.87 96.40 L480.01 97.19 L480.15 97.97 L480.29 98.76 L480.43 99.55 L480.56 100.33 L480.70 101.12 L480.84 101.91 L480.97 102.70 L481.11 103.48 L481.25 104.27 L481.38 105.06 L481.51 105.85 L481.64 106.64 L481.77 107.42 L481.90 108.21 L482.03 109.00 L482.15 109.79 L482.27 110.58 L482.40 111.37 L482.52 112.16 L482.64 112.95 L482.77 113.74 L482.89 114.53 L483.02 115.32 L483.15 116.11 L483.28 116.89 L483.41 117.68 L483.55 118.47 L483.68 119.26 L483.82 120.04 L483.97 120.83 L484.12 121.61 L484.27 122.40 L484.42 123.18 L484.58 123.96 L484.74 124.75 L484.90 125.53 L485.06 126.31 L485.23 127.09 L485.39 127.87 L485.56 128.65 L485.74 129.43 L485.91 130.21 L486.08 130.99 L486.26 131.77 L486.44 132.55 L486.62 133.33 L486.79 134.11 L486.97 134.89 L487.16 135.67 L487.34 136.44 L487.53 137.22 L487.72 138.00 L487.92 138.77 L488.11 139.54 L488.31 140.32 L488.51 141.09 L488.70 141.87 L488.90 142.64 L489.10 143.42 L489.30 144.19 L489.49 144.97 L489.68 145.74 L489.87 146.52 L490.06 147.29 L490.25 148.07 L490.44 148.85 L490.63 149.62 L490.82 150.40 L491.01 151.18 L491.20 151.95 L491.40 152.72 L491.60 153.50 L491.80 154.27 L492.01 155.04 L492.22 155.81 L492.44 156.58 L492.65 157.35 L492.87 158.12 L493.09 158.89 L493.32 159.65 L493.54 160.42 L493.77 161.19 L494.00 161.95 L494.23 162.72 L494.47 163.48 L494.70 164.25 L494.94 165.01 L495.18 165.77 L495.42 166.53 L495.67 167.29 L495.92 168.05 L496.17 168.81 L496.42 169.57 L496.67 170.33 L496.93 171.08 L497.19 171.84 L497.45 172.59 L497.73 173.34 L498.00 174.09 L498.28 174.83 L498.57 175.58 L498.85 176.33 L499.14 177.07 L499.43 177.82 L499.73 178.56 L500.02 179.31 L500.31 180.05 L500.60 180.80 L500.89 181.54 L501.17 182.29 L501.46 183.03 L501.74 183.78 L502.01 184.53 L502.28 185.28 L502.55 186.04 L502.81 186.79 L503.07 187.55 L503.33 188.30 L503.59 189.06 L503.86 189.81 L504.12 190.57 L504.39 191.32 L504.66 192.07 L504.93 192.82 L505.21 193.57 L505.49 194.32 L505.77 195.07 L506.05 195.82 L506.33 196.57 L506.61 197.32 L506.90 198.07 L507.20 198.82 L507.50 199.55 L507.82 200.29 L508.14 201.01 L508.47 201.73 L508.82 202.45 L509.18 203.15 L509.55 203.86 L509.94 204.56 L510.34 205.25 L510.75 205.94 L511.16 206.63 L511.59 207.31 L512.02 207.99 L512.46 208.66 L512.90 209.33 L513.35 209.99 L513.80 210.64 L514.26 211.30 L514.72 211.95 L515.20 212.60 L515.68 213.24 L516.17 213.87 L516.68 214.49 L517.20 215.10 L517.72 215.70 L518.26 216.28 L518.82 216.85 L519.39 217.41 L519.97 217.96 L520.57 218.50 L521.18 219.03 L521.80 219.53 L522.42 220.02 L523.07 220.49 L523.73 220.94 L524.40 221.38 L525.08 221.80 L525.78 222.19 L526.48 222.56 L527.20 222.92 L527.93 223.26 L528.66 223.57 L529.41 223.85 L530.16 224.11 L530.92 224.35 L531.69 224.58 L532.46 224.80 L533.23 225.02 L534.00 225.23 L534.77 225.45 L535.54 225.67 L536.31 225.89 L537.08 226.11 L537.85 226.32 L538.62 226.54 L539.39 226.75 L540.16 226.95 L540.94 227.15 L541.71 227.34 L542.49 227.51 L543.27 227.67 L544.05 227.83 L544.84 227.98 L545.62 228.13 L546.41 228.27 L547.19 228.42 L547.98 228.55 L548.77 228.69 L549.56 228.81 L550.35 228.94 L551.15 229.05 L551.94 229.16 L552.73 229.26 L553.53 229.35 L554.32 229.44 L555.11 229.51 L555.91 229.58 L556.70 229.65 L557.50 229.71 L558.29 229.78 L559.09 229.84 L559.88 229.90 L560.68 229.95 L561.48 230.01 L562.28 230.06 L563.08 230.11 L563.87 230.15 L564.67 230.20 L565.47 230.24 L566.27 230.28 L567.07 230.31 L567.87 230.34 L568.67 230.37 L569.47 230.40 L570.26 230.42 L571.06 230.44 L571.86 230.46 L572.66 230.49 L573.46 230.51 L574.26 230.53 L575.05 230.55 L575.85 230.57 L576.65 230.59 L577.45 230.60 L578.25 230.62 L579.05 230.64 L579.85 230.65 L580.65 230.66 L581.45 230.67 L582.24 230.68 L583.04 230.69 L583.84 230.69 L584.64 230.70 L585.44 230.70 L586.24 230.70 L587.04 230.70 L587.84 230.70 L588.64 230.70 L589.43 230.70 L590.23 230.70 L591.03 230.70 L591.83 230.70 L592.63 230.70 L593.43 230.70 L594.23 230.70 L595.03 230.70 L595.83 230.70 L596.62 230.70 L597.42 230.70 L598.22 230.70 L599.02 230.70 L599.82 230.70 L600.62 230.70 L601.42 230.70 L602.22 230.70 L603.02 230.70 L603.81 230.70 L604.61 230.70 L605.41 230.70 L606.21 230.70 L607.01 230.70 L607.81 230.70 L608.61 230.70 L609.41 230.70 L610.21 230.70 L611.01 230.70 L611.80 230.70 L612.60 230.70 L613.40 230.70 L614.20 230.70 L615.00 230.70"/>
<path class="c" stroke-dasharray="5.7 9.2" stroke-dashoffset="0.47" d="M444.00 230.60 L444.83 230.59 L445.66 230.57 L446.46 230.54 L447.26 230.49 L448.04 230.43 L448.82 230.36 L449.58 230.28 L450.39 230.07 L451.19 229.74 L451.89 229.33 L452.42 228.88 L452.82 228.27 L453.15 227.52 L453.46 226.71 L453.75 225.92 L454.05 225.18 L454.35 224.44 L454.63 223.69 L454.91 222.94 L455.18 222.19 L455.45 221.43 L455.71 220.68 L455.97 219.92 L456.23 219.16 L456.49 218.41 L456.75 217.65 L457.02 216.90 L457.29 216.14 L457.57 215.39 L457.84 214.63 L458.10 213.88 L458.35 213.12 L458.59 212.36 L458.80 211.59 L458.99 210.82 L459.16 210.04 L459.31 209.26 L459.46 208.47 L459.59 207.68 L459.72 206.89 L459.86 206.10 L459.99 205.31 L460.13 204.52 L460.29 203.74 L460.45 202.96 L460.64 202.18 L460.85 201.41 L461.06 200.63 L461.29 199.86 L461.51 199.09 L461.72 198.32 L461.93 197.55 L462.12 196.77 L462.28 195.99 L462.43 195.21 L462.56 194.42 L462.68 193.63 L462.80 192.84 L462.91 192.05 L463.02 191.26 L463.13 190.46 L463.24 189.67 L463.36 188.88 L463.48 188.09 L463.60 187.30 L463.71 186.51 L463.83 185.72 L463.94 184.93 L464.06 184.13 L464.18 183.34 L464.30 182.55 L464.42 181.76 L464.55 180.98 L464.69 180.19 L464.82 179.40 L464.96 178.61 L465.10 177.82 L465.24 177.04 L465.38 176.25 L465.53 175.46 L465.67 174.68 L465.82 173.89 L465.96 173.11 L466.11 172.32 L466.25 171.53 L466.39 170.74 L466.54 169.96 L466.69 169.17 L466.85 168.39 L467.01 167.61 L467.17 166.82 L467.35 166.05 L467.54 165.27 L467.75 164.50 L467.96 163.73 L468.17 162.95 L468.39 162.18 L468.60 161.41 L468.80 160.64 L468.99 159.86 L469.17 159.08 L469.34 158.30 L469.49 157.52 L469.65 156.73 L469.80 155.95 L469.96 155.17 L470.13 154.38 L470.30 153.60 L470.47 152.82 L470.64 152.04 L470.82 151.26 L470.99 150.47 L471.18 149.70 L471.36 148.92 L471.56 148.14 L471.76 147.37 L471.97 146.60 L472.19 145.84 L472.43 145.08 L472.68 144.32 L472.93 143.56 L473.20 142.81 L473.47 142.05 L473.75 141.30 L474.03 140.55 L474.32 139.80 L474.60 139.05 L474.88 138.31 L475.17 137.56 L475.45 136.81 L475.73 136.06 L476.01 135.31 L476.30 134.56 L476.59 133.82 L476.89 133.08 L477.20 132.34 L477.51 131.60 L477.83 130.87 L478.16 130.14 L478.49 129.41 L478.83 128.66 L479.17 127.92 L479.53 127.19 L479.90 126.47 L480.31 125.79 L480.74 125.15 L481.21 124.53 L481.76 123.85 L482.36 123.16 L483.00 122.60 L483.65 122.25 L484.31 122.23 L485.01 122.47 L485.73 122.89 L486.45 123.42 L487.12 123.97 L487.70 124.48 L488.24 125.04 L488.75 125.64 L489.23 126.29 L489.69 126.97 L490.14 127.66 L490.58 128.34 L491.01 129.02 L491.44 129.69 L491.85 130.38 L492.25 131.07 L492.63 131.77 L493.02 132.47 L493.40 133.18 L493.78 133.88 L494.17 134.58 L494.57 135.28 L494.98 135.96 L495.40 136.64 L495.83 137.31 L496.27 137.98 L496.71 138.65 L497.15 139.31 L497.60 139.97 L498.05 140.64 L498.51 141.30 L498.96 141.96 L499.41 142.62 L499.85 143.28 L500.30 143.95 L500.74 144.61 L501.19 145.27 L501.64 145.94 L502.08 146.60 L502.53 147.26 L502.98 147.93 L503.42 148.59 L503.86 149.26 L504.30 149.93 L504.74 150.60 L505.17 151.27 L505.61 151.94 L506.04 152.61 L506.47 153.29 L506.90 153.96 L507.32 154.64 L507.75 155.31 L508.17 155.99 L508.59 156.67 L509.01 157.36 L509.42 158.04 L509.84 158.72 L510.24 159.41 L510.65 160.10 L511.05 160.79 L511.45 161.48 L511.84 162.18 L512.24 162.87 L512.63 163.57 L513.02 164.27 L513.41 164.97 L513.79 165.67 L514.18 166.37 L514.56 167.07 L514.95 167.77 L515.32 168.48 L515.69 169.19 L516.06 169.90 L516.43 170.61 L516.80 171.32 L517.17 172.03 L517.56 172.73 L517.95 173.42 L518.36 174.10 L518.79 174.78 L519.22 175.45 L519.66 176.12 L520.11 176.78 L520.56 177.44 L521.01 178.10 L521.47 178.76 L521.92 179.42 L522.38 180.08 L522.83 180.74 L523.27 181.40 L523.71 182.07 L524.16 182.73 L524.60 183.40 L525.04 184.07 L525.49 184.73 L525.93 185.40 L526.37 186.06 L526.82 186.73 L527.26 187.39 L527.71 188.06 L528.15 188.72 L528.60 189.38 L529.04 190.05 L529.48 190.71 L529.93 191.38 L530.37 192.05 L530.81 192.71 L531.25 193.38 L531.69 194.05 L532.12 194.72 L532.55 195.40 L532.98 196.07 L533.42 196.74 L533.86 197.41 L534.31 198.07 L534.76 198.73 L535.21 199.39 L535.67 200.04 L536.13 200.70 L536.59 201.35 L537.06 202.00 L537.54 202.65 L538.02 203.28 L538.52 203.91 L539.02 204.52 L539.53 205.14 L540.06 205.74 L540.59 206.34 L541.13 206.94 L541.68 207.53 L542.23 208.10 L542.80 208.67 L543.37 209.22 L543.96 209.76 L544.55 210.29 L545.16 210.80 L545.78 211.31 L546.40 211.80 L547.04 212.29 L547.68 212.77 L548.33 213.25 L548.99 213.71 L549.64 214.17 L550.30 214.63 L550.96 215.08 L551.62 215.52 L552.29 215.96 L552.97 216.39 L553.65 216.82 L554.33 217.23 L555.02 217.65 L555.71 218.05 L556.40 218.44 L557.10 218.83 L557.80 219.22 L558.50 219.60 L559.21 219.97 L559.92 220.34 L560.64 220.70 L561.35 221.06 L562.07 221.41 L562.80 221.75 L563.52 222.08 L564.25 222.40 L564.99 222.72 L565.72 223.03 L566.46 223.33 L567.21 223.63 L567.95 223.92 L568.70 224.20 L569.46 224.48 L570.21 224.74 L570.97 224.99 L571.73 225.23 L572.49 225.47 L573.26 225.70 L574.03 225.92 L574.80 226.14 L575.57 226.35 L576.34 226.55 L577.12 226.75 L577.89 226.95 L578.67 227.14 L579.44 227.33 L580.22 227.52 L581.00 227.71 L581.78 227.89 L582.56 228.06 L583.35 228.22 L584.13 228.36 L584.92 228.49 L585.71 228.60 L586.50 228.71 L587.29 228.81 L588.09 228.90 L588.88 228.99 L589.68 229.07 L590.47 229.15 L591.27 229.23 L592.07 229.31 L592.86 229.39 L593.66 229.46 L594.46 229.54 L595.25 229.62 L596.05 229.70 L596.84 229.77 L597.64 229.84 L598.44 229.90 L599.24 229.96 L600.03 230.00 L600.83 230.04 L601.63 230.08 L602.43 230.12 L603.23 230.16 L604.02 230.19 L604.82 230.23 L605.62 230.26 L606.42 230.29 L607.22 230.32 L608.02 230.35 L608.82 230.37 L609.62 230.40 L610.42 230.42 L611.22 230.44 L612.02 230.46 L612.82 230.47 L613.62 230.49 L614.42 230.49 L615.22 230.50 L616.01 230.51 L616.81 230.51 L617.61 230.52 L618.41 230.52 L619.21 230.53 L620.01 230.53 L620.81 230.54 L621.61 230.54 L622.41 230.55 L623.21 230.55 L624.01 230.56 L624.81 230.56 L625.61 230.57 L626.41 230.57 L627.21 230.57 L628.01 230.58 L628.81 230.58 L629.60 230.58 L630.40 230.58 L631.20 230.59 L632.00 230.59 L632.80 230.59 L633.60 230.59 L634.40 230.59 L635.20 230.60 L636.00 230.60 L636.80 230.60 L637.60 230.60 L638.40 230.60 L639.20 230.60 L640.00 230.60"/>
<path class="c" stroke-dasharray="1.5 7.3" stroke-dashoffset="5.46" d="M447.00 230.60 L447.82 230.60 L448.63 230.58 L449.44 230.56 L450.25 230.54 L451.05 230.50 L451.84 230.46 L452.63 230.41 L453.42 230.36 L454.21 230.29 L454.99 230.23 L455.77 230.14 L456.55 229.98 L457.34 229.75 L458.11 229.48 L458.86 229.18 L459.57 228.86 L460.26 228.52 L460.93 228.14 L461.60 227.70 L462.25 227.23 L462.89 226.72 L463.52 226.19 L464.13 225.63 L464.72 225.05 L465.29 224.47 L465.84 223.87 L466.37 223.28 L466.88 222.69 L467.36 222.08 L467.82 221.44 L468.26 220.79 L468.69 220.11 L469.11 219.42 L469.52 218.72 L469.92 218.02 L470.32 217.31 L470.72 216.61 L471.12 215.91 L471.52 215.22 L471.92 214.53 L472.32 213.84 L472.72 213.15 L473.11 212.45 L473.50 211.75 L473.89 211.05 L474.27 210.35 L474.64 209.64 L475.02 208.94 L475.38 208.23 L475.74 207.51 L476.09 206.80 L476.44 206.08 L476.77 205.35 L477.11 204.63 L477.43 203.90 L477.76 203.17 L478.09 202.44 L478.42 201.71 L478.75 200.98 L479.08 200.26 L479.43 199.54 L479.78 198.82 L480.14 198.11 L480.50 197.40 L480.86 196.69 L481.23 195.98 L481.60 195.27 L481.96 194.55 L482.33 193.84 L482.69 193.13 L483.04 192.42 L483.39 191.70 L483.73 190.98 L484.07 190.25 L484.41 189.52 L484.74 188.80 L485.08 188.07 L485.42 187.35 L485.76 186.63 L486.11 185.91 L486.47 185.20 L486.84 184.49 L487.22 183.79 L487.62 183.10 L488.02 182.41 L488.43 181.73 L488.85 181.05 L489.28 180.37 L489.71 179.70 L490.14 179.02 L490.57 178.35 L491.00 177.68 L491.43 177.00 L491.86 176.33 L492.28 175.64 L492.70 174.96 L493.12 174.27 L493.54 173.58 L493.96 172.90 L494.40 172.23 L494.84 171.57 L495.30 170.92 L495.77 170.29 L496.26 169.67 L496.77 169.06 L497.29 168.46 L497.83 167.86 L498.38 167.27 L498.94 166.69 L499.52 166.12 L500.10 165.56 L500.69 165.02 L501.29 164.49 L501.90 163.98 L502.51 163.49 L503.14 163.00 L503.77 162.51 L504.42 162.03 L505.08 161.55 L505.75 161.08 L506.43 160.64 L507.12 160.21 L507.82 159.81 L508.52 159.44 L509.24 159.11 L509.96 158.82 L510.69 158.54 L511.44 158.27 L512.20 157.99 L512.97 157.74 L513.75 157.50 L514.54 157.30 L515.33 157.15 L516.12 157.04 L516.91 157.00 L517.71 157.00 L518.52 157.00 L519.30 157.01 L520.06 157.12 L520.82 157.30 L521.56 157.56 L522.30 157.88 L523.04 158.23 L523.77 158.62 L524.50 159.01 L525.23 159.40 L525.96 159.78 L526.70 160.11 L527.44 160.42 L528.18 160.72 L528.93 161.01 L529.67 161.31 L530.42 161.60 L531.16 161.90 L531.90 162.21 L532.64 162.52 L533.36 162.85 L534.08 163.19 L534.79 163.54 L535.49 163.91 L536.19 164.30 L536.88 164.70 L537.57 165.12 L538.25 165.55 L538.93 165.99 L539.59 166.44 L540.25 166.90 L540.89 167.38 L541.52 167.86 L542.14 168.35 L542.74 168.86 L543.33 169.39 L543.91 169.93 L544.48 170.49 L545.04 171.07 L545.59 171.65 L546.14 172.25 L546.68 172.84 L547.22 173.44 L547.76 174.03 L548.29 174.62 L548.82 175.22 L549.35 175.82 L549.87 176.42 L550.38 177.03 L550.90 177.65 L551.41 178.26 L551.92 178.88 L552.42 179.50 L552.93 180.12 L553.44 180.73 L553.94 181.35 L554.45 181.97 L554.95 182.59 L555.45 183.22 L555.94 183.85 L556.44 184.47 L556.93 185.10 L557.43 185.73 L557.93 186.35 L558.43 186.97 L558.94 187.58 L559.46 188.19 L559.98 188.79 L560.50 189.40 L561.03 190.00 L561.56 190.60 L562.09 191.20 L562.63 191.79 L563.17 192.38 L563.71 192.96 L564.26 193.54 L564.82 194.12 L565.38 194.68 L565.95 195.24 L566.53 195.79 L567.11 196.33 L567.70 196.88 L568.29 197.41 L568.89 197.94 L569.49 198.47 L570.09 199.00 L570.69 199.53 L571.29 200.05 L571.89 200.58 L572.49 201.11 L573.09 201.64 L573.69 202.16 L574.29 202.69 L574.90 203.22 L575.50 203.74 L576.11 204.25 L576.73 204.77 L577.35 205.27 L577.97 205.77 L578.60 206.25 L579.24 206.73 L579.88 207.21 L580.52 207.68 L581.17 208.14 L581.83 208.60 L582.49 209.05 L583.15 209.50 L583.81 209.95 L584.48 210.39 L585.14 210.83 L585.81 211.27 L586.48 211.71 L587.15 212.14 L587.83 212.56 L588.51 212.99 L589.19 213.40 L589.87 213.82 L590.55 214.23 L591.24 214.65 L591.92 215.06 L592.61 215.47 L593.29 215.88 L593.98 216.29 L594.67 216.70 L595.35 217.11 L596.04 217.51 L596.73 217.92 L597.42 218.32 L598.12 218.71 L598.81 219.10 L599.51 219.49 L600.22 219.86 L600.93 220.22 L601.64 220.58 L602.35 220.94 L603.07 221.29 L603.79 221.64 L604.52 221.98 L605.24 222.32 L605.97 222.65 L606.70 222.97 L607.43 223.29 L608.17 223.60 L608.90 223.91 L609.64 224.22 L610.38 224.52 L611.12 224.83 L611.87 225.12 L612.61 225.41 L613.36 225.70 L614.12 225.97 L614.87 226.23 L615.63 226.47 L616.39 226.70 L617.15 226.91 L617.92 227.12 L618.70 227.33 L619.47 227.53 L620.25 227.72 L621.03 227.90 L621.81 228.07 L622.59 228.24 L623.38 228.39 L624.16 228.54 L624.95 228.68 L625.74 228.80 L626.52 228.92 L627.31 229.04 L628.11 229.15 L628.90 229.25 L629.69 229.35 L630.49 229.45 L631.28 229.54 L632.08 229.63 L632.87 229.70 L633.67 229.78 L634.46 229.85 L635.26 229.92 L636.05 229.99 L636.85 230.05 L637.65 230.12 L638.44 230.17 L639.24 230.23 L640.04 230.28 L640.84 230.32 L641.63 230.36 L642.43 230.39 L643.23 230.42 L644.03 230.44 L644.82 230.46 L645.62 230.48 L646.42 230.50 L647.22 230.52 L648.02 230.54 L648.81 230.56 L649.61 230.58 L650.41 230.60 L651.21 230.61 L652.01 230.63 L652.81 230.64 L653.61 230.65 L654.40 230.66 L655.20 230.67 L656.00 230.68 L656.80 230.69 L657.60 230.69 L658.40 230.70 L659.20 230.70 L660.00 230.70"/>
<path class="c" stroke-dasharray="1.2 7.9 5.2 7.9" stroke-dashoffset="19.54" d="M452.00 230.70 L452.80 230.70 L453.60 230.70 L454.40 230.69 L455.20 230.69 L456.00 230.68 L456.79 230.67 L457.59 230.66 L458.39 230.65 L459.19 230.64 L459.99 230.63 L460.78 230.62 L461.58 230.60 L462.38 230.59 L463.18 230.57 L463.98 230.54 L464.78 230.50 L465.59 230.46 L466.39 230.41 L467.19 230.36 L467.99 230.29 L468.79 230.23 L469.59 230.16 L470.38 230.08 L471.17 229.99 L471.95 229.90 L472.73 229.81 L473.51 229.69 L474.29 229.53 L475.07 229.32 L475.84 229.09 L476.61 228.82 L477.37 228.54 L478.11 228.24 L478.85 227.93 L479.57 227.62 L480.28 227.28 L480.97 226.90 L481.65 226.49 L482.33 226.05 L483.00 225.60 L483.66 225.14 L484.33 224.68 L484.99 224.23 L485.66 223.80 L486.33 223.36 L486.99 222.91 L487.65 222.46 L488.31 222.01 L488.97 221.56 L489.62 221.10 L490.28 220.65 L490.94 220.19 L491.59 219.74 L492.25 219.29 L492.91 218.84 L493.58 218.39 L494.24 217.95 L494.90 217.50 L495.56 217.05 L496.21 216.59 L496.87 216.13 L497.51 215.66 L498.16 215.19 L498.80 214.72 L499.44 214.24 L500.08 213.76 L500.71 213.27 L501.34 212.78 L501.97 212.28 L502.59 211.77 L503.20 211.26 L503.80 210.74 L504.39 210.21 L504.97 209.66 L505.55 209.11 L506.12 208.55 L506.69 207.99 L507.26 207.43 L507.83 206.86 L508.39 206.30 L508.96 205.74 L509.54 205.18 L510.11 204.63 L510.68 204.07 L511.24 203.50 L511.81 202.94 L512.37 202.37 L512.93 201.80 L513.48 201.23 L514.03 200.65 L514.58 200.06 L515.12 199.48 L515.66 198.89 L516.19 198.29 L516.72 197.70 L517.25 197.10 L517.78 196.50 L518.30 195.89 L518.82 195.29 L519.34 194.68 L519.86 194.08 L520.37 193.46 L520.87 192.84 L521.37 192.22 L521.87 191.59 L522.36 190.96 L522.86 190.33 L523.35 189.71 L523.85 189.08 L524.35 188.46 L524.86 187.84 L525.37 187.23 L525.89 186.63 L526.42 186.03 L526.95 185.44 L527.49 184.85 L528.04 184.27 L528.58 183.69 L529.14 183.11 L529.69 182.54 L530.25 181.96 L530.81 181.39 L531.36 180.82 L531.92 180.24 L532.48 179.67 L533.03 179.09 L533.58 178.52 L534.13 177.93 L534.67 177.35 L535.21 176.76 L535.75 176.17 L536.30 175.59 L536.84 175.00 L537.39 174.43 L537.95 173.85 L538.51 173.29 L539.08 172.72 L539.64 172.13 L540.21 171.55 L540.78 170.97 L541.37 170.42 L541.97 169.92 L542.60 169.46 L543.26 169.05 L543.94 168.65 L544.64 168.25 L545.37 167.87 L546.11 167.52 L546.86 167.19 L547.62 166.91 L548.38 166.66 L549.15 166.47 L549.91 166.33 L550.68 166.19 L551.47 166.07 L552.26 165.95 L553.06 165.85 L553.86 165.76 L554.67 165.69 L555.47 165.64 L556.27 165.61 L557.07 165.60 L557.87 165.60 L558.67 165.61 L559.47 165.61 L560.27 165.62 L561.08 165.64 L561.88 165.65 L562.67 165.67 L563.47 165.68 L564.25 165.71 L565.04 165.77 L565.83 165.89 L566.61 166.06 L567.39 166.26 L568.17 166.49 L568.94 166.73 L569.71 166.98 L570.47 167.23 L571.22 167.47 L571.97 167.74 L572.71 168.03 L573.45 168.34 L574.18 168.67 L574.91 169.01 L575.63 169.37 L576.35 169.73 L577.06 170.10 L577.76 170.47 L578.46 170.85 L579.15 171.25 L579.83 171.66 L580.50 172.09 L581.17 172.53 L581.84 172.97 L582.50 173.42 L583.17 173.87 L583.83 174.32 L584.49 174.77 L585.14 175.23 L585.79 175.69 L586.44 176.16 L587.09 176.63 L587.73 177.10 L588.38 177.57 L589.03 178.03 L589.68 178.49 L590.34 178.94 L591.01 179.38 L591.69 179.81 L592.37 180.24 L593.04 180.67 L593.72 181.11 L594.38 181.55 L595.03 182.01 L595.67 182.48 L596.29 182.97 L596.89 183.49 L597.48 184.02 L598.06 184.57 L598.62 185.14 L599.19 185.71 L599.74 186.29 L600.30 186.87 L600.85 187.45 L601.40 188.02 L601.95 188.60 L602.49 189.19 L603.03 189.78 L603.56 190.37 L604.10 190.97 L604.63 191.56 L605.16 192.16 L605.70 192.75 L606.24 193.34 L606.78 193.93 L607.32 194.51 L607.86 195.10 L608.41 195.68 L608.95 196.27 L609.49 196.85 L610.03 197.44 L610.57 198.03 L611.11 198.62 L611.64 199.22 L612.16 199.83 L612.68 200.43 L613.20 201.04 L613.73 201.65 L614.25 202.25 L614.79 202.84 L615.33 203.42 L615.89 203.99 L616.46 204.55 L617.03 205.09 L617.62 205.64 L618.21 206.17 L618.81 206.70 L619.42 207.23 L620.02 207.75 L620.63 208.27 L621.24 208.78 L621.85 209.30 L622.47 209.80 L623.10 210.30 L623.72 210.80 L624.35 211.29 L624.98 211.78 L625.61 212.27 L626.24 212.76 L626.87 213.25 L627.49 213.76 L628.11 214.26 L628.72 214.77 L629.34 215.29 L629.95 215.80 L630.56 216.31 L631.18 216.82 L631.80 217.32 L632.42 217.82 L633.05 218.31 L633.68 218.81 L634.31 219.30 L634.94 219.79 L635.58 220.28 L636.22 220.76 L636.87 221.22 L637.52 221.68 L638.18 222.12 L638.85 222.55 L639.52 222.98 L640.20 223.39 L640.89 223.81 L641.58 224.21 L642.28 224.60 L642.99 224.99 L643.69 225.36 L644.41 225.72 L645.12 226.07 L645.84 226.41 L646.57 226.74 L647.30 227.07 L648.03 227.39 L648.78 227.70 L649.52 227.99 L650.28 228.26 L651.03 228.50 L651.80 228.71 L652.56 228.91 L653.34 229.11 L654.12 229.30 L654.90 229.47 L655.69 229.64 L656.48 229.78 L657.27 229.91 L658.06 230.03 L658.85 230.12 L659.64 230.20 L660.43 230.28 L661.23 230.35 L662.02 230.43 L662.82 230.49 L663.62 230.55 L664.42 230.60 L665.22 230.65 L666.02 230.68 L666.81 230.69 L667.61 230.70 L668.41 230.70 L669.21 230.70 L670.01 230.70 L670.80 230.70 L671.60 230.70 L672.40 230.70 L673.20 230.70 L674.00 230.70"/>
<path class="c" stroke-dasharray="11.3 7.4" stroke-dashoffset="3.49" d="M466.00 230.70 L466.80 230.69 L467.60 230.68 L468.39 230.67 L469.19 230.66 L469.99 230.64 L470.79 230.62 L471.59 230.60 L472.38 230.58 L473.18 230.55 L473.98 230.53 L474.78 230.50 L475.57 230.47 L476.37 230.44 L477.17 230.41 L477.97 230.38 L478.76 230.35 L479.56 230.32 L480.36 230.29 L481.15 230.25 L481.95 230.21 L482.75 230.17 L483.54 230.13 L484.34 230.08 L485.14 230.03 L485.94 229.98 L486.73 229.92 L487.53 229.86 L488.32 229.80 L489.12 229.74 L489.91 229.67 L490.71 229.60 L491.50 229.53 L492.30 229.45 L493.09 229.36 L493.88 229.27 L494.67 229.16 L495.46 229.05 L496.25 228.93 L497.04 228.81 L497.83 228.69 L498.62 228.56 L499.40 228.43 L500.19 228.31 L500.98 228.18 L501.77 228.04 L502.56 227.91 L503.34 227.77 L504.13 227.62 L504.91 227.47 L505.70 227.32 L506.48 227.16 L507.26 227.00 L508.04 226.84 L508.82 226.67 L509.60 226.49 L510.37 226.30 L511.14 226.11 L511.91 225.91 L512.68 225.69 L513.44 225.45 L514.21 225.21 L514.97 224.96 L515.72 224.70 L516.48 224.44 L517.23 224.18 L517.98 223.90 L518.72 223.61 L519.46 223.32 L520.20 223.02 L520.94 222.72 L521.68 222.42 L522.42 222.11 L523.16 221.80 L523.90 221.49 L524.63 221.17 L525.36 220.84 L526.08 220.50 L526.79 220.16 L527.50 219.80 L528.20 219.42 L528.90 219.03 L529.59 218.63 L530.27 218.21 L530.95 217.79 L531.63 217.36 L532.30 216.93 L532.96 216.49 L533.63 216.05 L534.29 215.61 L534.96 215.16 L535.62 214.71 L536.28 214.26 L536.93 213.80 L537.59 213.34 L538.24 212.87 L538.89 212.40 L539.53 211.92 L540.17 211.44 L540.80 210.95 L541.42 210.45 L542.04 209.95 L542.65 209.44 L543.25 208.93 L543.84 208.40 L544.42 207.86 L544.99 207.30 L545.55 206.72 L546.10 206.15 L546.66 205.57 L547.21 204.99 L547.77 204.43 L548.34 203.86 L548.91 203.30 L549.47 202.74 L550.04 202.18 L550.61 201.62 L551.18 201.06 L551.75 200.50 L552.32 199.94 L552.89 199.38 L553.45 198.82 L554.02 198.26 L554.58 197.69 L555.14 197.12 L555.70 196.55 L556.26 195.98 L556.81 195.41 L557.36 194.83 L557.90 194.24 L558.44 193.65 L558.97 193.06 L559.50 192.46 L560.03 191.86 L560.57 191.27 L561.11 190.69 L561.67 190.12 L562.22 189.55 L562.78 188.98 L563.34 188.41 L563.91 187.85 L564.48 187.29 L565.05 186.73 L565.62 186.18 L566.20 185.62 L566.77 185.07 L567.35 184.52 L567.93 183.97 L568.51 183.42 L569.09 182.87 L569.66 182.32 L570.24 181.77 L570.82 181.22 L571.41 180.68 L571.99 180.13 L572.58 179.59 L573.16 179.05 L573.75 178.51 L574.34 177.97 L574.92 177.43 L575.51 176.88 L576.09 176.34 L576.67 175.79 L577.26 175.25 L577.84 174.70 L578.43 174.16 L579.01 173.62 L579.60 173.07 L580.18 172.53 L580.77 171.99 L581.36 171.46 L581.95 170.92 L582.55 170.39 L583.15 169.86 L583.75 169.34 L584.35 168.82 L584.95 168.30 L585.56 167.78 L586.17 167.26 L586.79 166.75 L587.41 166.25 L588.04 165.76 L588.68 165.30 L589.34 164.84 L590.00 164.39 L590.66 163.94 L591.34 163.51 L592.02 163.09 L592.71 162.69 L593.41 162.30 L594.11 161.94 L594.83 161.60 L595.55 161.27 L596.29 160.95 L597.03 160.64 L597.77 160.35 L598.52 160.06 L599.27 159.79 L600.02 159.52 L600.77 159.25 L601.53 158.98 L602.29 158.71 L603.05 158.46 L603.82 158.24 L604.59 158.05 L605.37 157.90 L606.15 157.79 L606.94 157.67 L607.74 157.56 L608.54 157.47 L609.34 157.39 L610.14 157.33 L610.93 157.30 L611.72 157.31 L612.51 157.38 L613.31 157.50 L614.10 157.68 L614.89 157.89 L615.67 158.13 L616.43 158.39 L617.18 158.67 L617.90 158.94 L618.60 159.25 L619.30 159.63 L619.99 160.06 L620.66 160.54 L621.31 161.04 L621.94 161.56 L622.54 162.09 L623.12 162.61 L623.68 163.15 L624.22 163.71 L624.75 164.29 L625.27 164.89 L625.78 165.51 L626.28 166.14 L626.76 166.79 L627.24 167.45 L627.71 168.11 L628.17 168.78 L628.62 169.46 L629.06 170.14 L629.49 170.82 L629.92 171.49 L630.34 172.17 L630.75 172.85 L631.14 173.54 L631.51 174.24 L631.88 174.95 L632.24 175.67 L632.61 176.38 L632.98 177.09 L633.36 177.79 L633.74 178.49 L634.13 179.19 L634.52 179.89 L634.91 180.58 L635.30 181.28 L635.69 181.97 L636.08 182.67 L636.47 183.37 L636.86 184.06 L637.25 184.76 L637.63 185.46 L638.02 186.16 L638.39 186.86 L638.77 187.57 L639.13 188.28 L639.49 188.99 L639.84 189.70 L640.19 190.42 L640.52 191.15 L640.86 191.87 L641.20 192.59 L641.55 193.31 L641.91 194.02 L642.28 194.73 L642.66 195.43 L643.04 196.13 L643.42 196.83 L643.81 197.52 L644.21 198.22 L644.61 198.91 L645.01 199.60 L645.41 200.29 L645.81 200.98 L646.22 201.67 L646.62 202.36 L647.02 203.05 L647.43 203.74 L647.83 204.43 L648.22 205.12 L648.62 205.81 L649.01 206.51 L649.40 207.21 L649.78 207.91 L650.17 208.61 L650.56 209.30 L650.96 209.99 L651.38 210.67 L651.80 211.34 L652.24 212.01 L652.67 212.68 L653.11 213.34 L653.56 214.00 L654.02 214.66 L654.47 215.32 L654.94 215.97 L655.41 216.62 L655.88 217.27 L656.36 217.91 L656.84 218.54 L657.33 219.18 L657.82 219.80 L658.32 220.43 L658.82 221.04 L659.32 221.67 L659.83 222.29 L660.35 222.91 L660.88 223.51 L661.43 224.09 L662.00 224.64 L662.59 225.16 L663.20 225.65 L663.84 226.13 L664.50 226.60 L665.17 227.04 L665.86 227.47 L666.56 227.87 L667.27 228.25 L667.98 228.59 L668.69 228.91 L669.42 229.22 L670.16 229.51 L670.90 229.79 L671.66 230.05 L672.43 230.29 L673.21 230.51 L674.00 230.70"/>
</g>
<rect class="ax" x="429.45" y="43.10" width="248.95" height="195.00"/>
<path class="ax" d="M438.50 238.10V247.50M484.64 238.10V247.50M530.78 238.10V247.50M576.92 238.10V247.50M623.06 238.10V247.50M669.20 238.10V247.50M429.45 230.90H420.05M429.45 196.60H420.05M429.45 162.30H420.05M429.45 128.00H420.05M429.45 93.70H420.05M429.45 59.40H420.05"/>
<text x="438.50" y="270.7" font-size="14.9" text-anchor="middle">0</text>
<text x="484.64" y="270.7" font-size="14.9" text-anchor="middle">500</text>
<text x="530.78" y="270.7" font-size="14.9" text-anchor="middle">1000</text>
<text x="576.92" y="270.7" font-size="14.9" text-anchor="middle">1500</text>
<text x="623.06" y="270.7" font-size="14.9" text-anchor="middle">2000</text>
<text x="669.20" y="270.7" font-size="14.9" text-anchor="middle">2500</text>
<text transform="translate(408.15 230.90) rotate(-90)" font-size="14.9" text-anchor="middle">0.0000</text>
<text transform="translate(408.15 162.30) rotate(-90)" font-size="14.9" text-anchor="middle">0.0010</text>
<text transform="translate(408.15 93.70) rotate(-90)" font-size="14.9" text-anchor="middle">0.0020</text>
<text x="553.92" y="306.5" font-size="14.9" text-anchor="middle">height (cm)</text>
<text transform="translate(372.25 140.00) rotate(-90)" font-size="14.9" text-anchor="middle">Density</text>
<text x="554.22" y="12.3" font-size="17.6" font-weight="bold" text-anchor="middle">(b)</text>
<path class="c" d="M587.00 60.90H614.30"/>
<text x="627.30" y="64.90" font-size="14.9"><tspan class="g">γ</tspan><tspan font-size="10.2" dy="3.2">2</tspan><tspan dy="-1.9" dx="2.5" stroke-width="0.1">=</tspan><tspan dy="-1.3" dx="3.9">−3</tspan></text>
<path class="c" stroke-dasharray="5.7 9.2" d="M587.00 79.05H614.30"/>
<text x="627.30" y="83.05" font-size="14.9"><tspan class="g">γ</tspan><tspan font-size="10.2" dy="3.2">2</tspan><tspan dy="-1.9" dx="2.5" stroke-width="0.1">=</tspan><tspan dy="-1.3" dx="3.9">−2</tspan></text>
<path class="c" stroke-dasharray="1.5 7.3" d="M587.00 97.20H614.30"/>
<text x="627.30" y="101.20" font-size="14.9"><tspan class="g">γ</tspan><tspan font-size="10.2" dy="3.2">2</tspan><tspan dy="-1.9" dx="2.5" stroke-width="0.1">=</tspan><tspan dy="-1.3" dx="3.9">−1</tspan></text>
<path class="c" stroke-dasharray="1.2 7.9 5.2 7.9" d="M587.00 115.35H614.30"/>
<text x="627.30" y="119.35" font-size="14.9"><tspan class="g">γ</tspan><tspan font-size="10.2" dy="3.2">2</tspan><tspan dy="-1.9" dx="2.5" stroke-width="0.1">=</tspan><tspan dy="-1.3" dx="3.9">0</tspan></text>
<path class="c" stroke-dasharray="11.3 7.4" d="M587.00 133.50H614.30"/>
<text x="627.30" y="137.50" font-size="14.9"><tspan class="g">γ</tspan><tspan font-size="10.2" dy="3.2">2</tspan><tspan dy="-1.9" dx="2.5" stroke-width="0.1">=</tspan><tspan dy="-1.3" dx="3.9">1</tspan></text>
</svg></body></html>
